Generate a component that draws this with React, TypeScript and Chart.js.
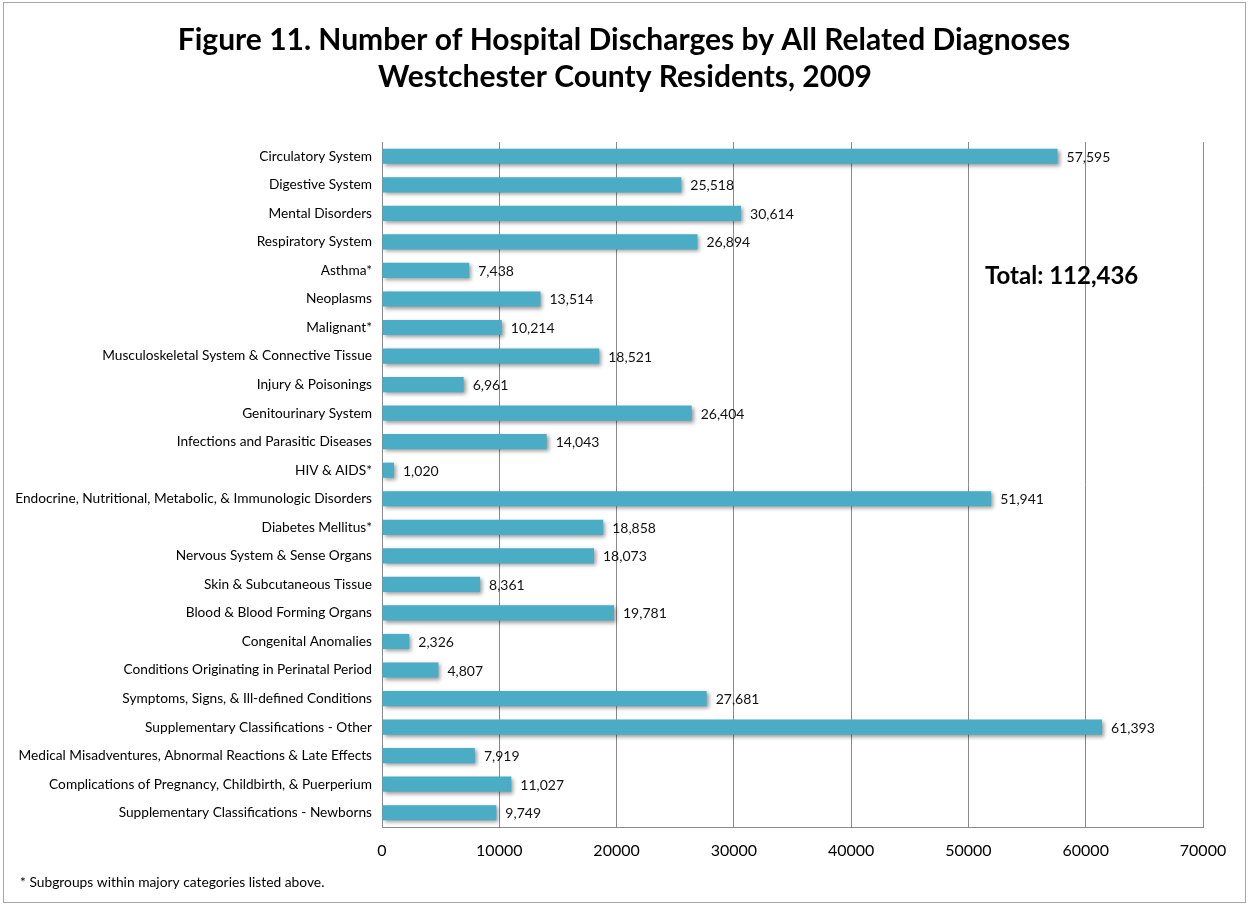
import React, { useEffect, useRef } from "react";
import { Chart, registerables } from "chart.js";

Chart.register(...registerables);

const categories: string[] = [
  "Circulatory System",
  "Digestive System",
  "Mental Disorders",
  "Respiratory System",
  "Asthma*",
  "Neoplasms",
  "Malignant*",
  "Musculoskeletal System & Connective Tissue",
  "Injury & Poisonings",
  "Genitourinary System",
  "Infections and Parasitic Diseases",
  "HIV & AIDS*",
  "Endocrine, Nutritional, Metabolic, & Immunologic Disorders",
  "Diabetes Mellitus*",
  "Nervous System & Sense Organs",
  "Skin & Subcutaneous Tissue",
  "Blood & Blood Forming Organs",
  "Congenital Anomalies",
  "Conditions Originating in Perinatal Period",
  "Symptoms, Signs, & Ill-defined Conditions",
  "Supplementary Classifications - Other",
  "Medical Misadventures, Abnormal Reactions & Late Effects",
  "Complications of Pregnancy, Childbirth, & Puerperium",
  "Supplementary Classifications - Newborns",
];

const discharges: number[] = [
  57595, 25518, 30614, 26894, 7438, 13514, 10214, 18521, 6961, 26404, 14043,
  1020, 51941, 18858, 18073, 8361, 19781, 2326, 4807, 27681, 61393, 7919,
  11027, 9749,
];

const titleLines: string[] = [
  "Figure 11. Number of Hospital Discharges by All Related Diagnoses",
  "Westchester County Residents, 2009",
];
const totalNote = "Total: 112,436";
const footnote = "* Subgroups within majory categories listed above.";
const xMin = 0;
const xMax = 70000;
const xStep = 10000;

const FONT = "Lato, 'Open Sans', sans-serif";

export default function App() {
  const canvasRef = useRef<HTMLCanvasElement | null>(null);

  useEffect(() => {
    const canvas = canvasRef.current;
    if (!canvas) return;

    const frame = {
      id: "frame",
      beforeDraw(chart: any) {
        const ctx = chart.ctx;
        ctx.save();
        ctx.fillStyle = "#ffffff";
        ctx.fillRect(0, 0, chart.width, chart.height);
        ctx.strokeStyle = "#a6a6a6";
        ctx.lineWidth = 1;
        ctx.strokeRect(3.5, 2.5, chart.width - 7, chart.height - 5);
        ctx.restore();
      },
      afterDraw(chart: any) {
        const ctx = chart.ctx;
        ctx.save();
        ctx.fillStyle = "#000000";
        ctx.textAlign = "center";
        ctx.textBaseline = "middle";
        ctx.font = `bold 30px ${FONT}`;
        ctx.fillText(titleLines[0], 624, 40);
        ctx.fillText(titleLines[1], 625, 77);
        ctx.textAlign = "left";
        ctx.font = `bold 24px ${FONT}`;
        ctx.fillText(totalNote, 985, 276);
        ctx.font = `13.8px ${FONT}`;
        ctx.fillText(footnote, 20, 883);
        ctx.restore();
      },
    };

    const shadow = {
      id: "shadow",
      beforeDatasetsDraw(chart: any) {
        const ctx = chart.ctx;
        ctx.save();
        ctx.shadowColor = "rgba(0,0,0,0.4)";
        ctx.shadowBlur = 4;
        ctx.shadowOffsetX = 2;
        ctx.shadowOffsetY = 2;
      },
      afterDatasetsDraw(chart: any) {
        chart.ctx.restore();
        const ctx = chart.ctx;
        const meta = chart.getDatasetMeta(0);
        ctx.save();
        ctx.fillStyle = "#111111";
        ctx.font = `14px ${FONT}`;
        ctx.textAlign = "left";
        ctx.textBaseline = "middle";
        meta.data.forEach((bar: any, i: number) => {
          const v = chart.data.datasets[0].data[i] as number;
          ctx.fillText(v.toLocaleString("en-US"), bar.x + 9, bar.y + 1);
        });
        ctx.restore();
      },
    };

    const chart = new Chart(canvas, {
      type: "bar",
      data: {
        labels: categories,
        datasets: [
          {
            data: discharges,
            backgroundColor: "#4bacc6",
            borderWidth: 0,
            barPercentage: 0.53,
            categoryPercentage: 1,
          },
        ],
      },
      options: {
        indexAxis: "y",
        responsive: false,
        animation: false,
        layout: { padding: { top: 142, right: 46, bottom: 28, left: 0 } },
        plugins: {
          legend: { display: false },
          tooltip: { enabled: false },
          title: { display: false },
        },
        scales: {
          x: {
            min: xMin,
            max: xMax,
            ticks: {
              stepSize: xStep,
              color: "#000000",
              font: { family: FONT, size: 16 },
              padding: 14,
              callback: (v: any) => String(v),
            },
            grid: { color: "#8a8a8a", drawTicks: false, lineWidth: 1 },
            border: { display: true, color: "#8a8a8a" },
            afterFit: (s: any) => {
              s.height = 50;
            },
          },
          y: {
            ticks: {
              color: "#000000",
              font: { family: FONT, size: 13.7 },
              padding: 10,
              autoSkip: false,
            },
            grid: { display: false, drawTicks: false },
            border: { display: true, color: "#8a8a8a" },
            afterFit: (s: any) => {
              s.width = 382;
            },
          },
        },
      },
      plugins: [frame, shadow],
    });

    return () => chart.destroy();
  }, []);

  return (
    <canvas
      ref={canvasRef}
      width={1249}
      height={905}
      style={{ position: "absolute", left: 0, top: 0, display: "block" }}
    />
  );
}
